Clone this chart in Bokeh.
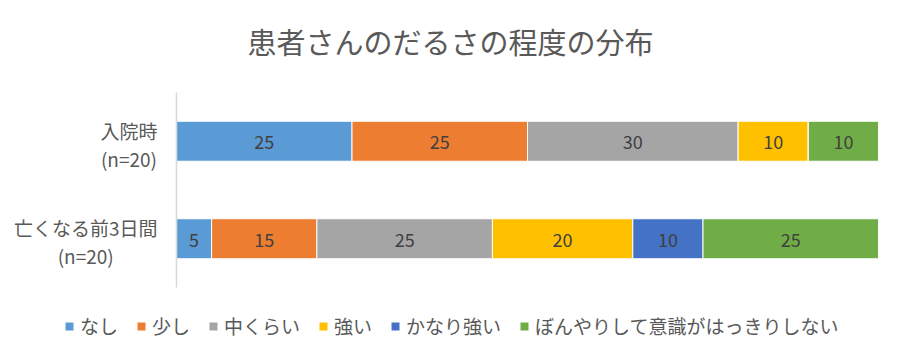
from bokeh.plotting import figure
from bokeh.models import ColumnDataSource, Legend, LegendItem, Label, Range1d
from bokeh.core.properties import value
from bokeh.embed import file_html
from bokeh.resources import INLINE

title_text = "患者さんのだるさの程度の分布"
categories = ["入院時\n(n=20)", "亡くなる前3日間\n(n=20)"]
levels = ["なし", "少し", "中くらい", "強い", "かなり強い", "ぼんやりして意識がはっきりしない"]
nashi = [25, 5]
sukoshi = [25, 15]
nakagurai = [30, 25]
tsuyoi = [10, 20]
kanari = [0, 10]
bonyari = [10, 25]
colors = ["#5B9BD5", "#ED7D31", "#A5A5A5", "#FFC000", "#4472C4", "#70AD47"]

FONT = "Noto Sans CJK JP"
W, H = 884, 344
# pixel layout of the plotting band inside the canvas
PX_L, PX_R = 176, 878          # x=0 .. x=100
PX_TOP, PX_BOT = 92, 287       # band of the categories
n = len(categories)
unit = (PX_BOT - PX_TOP) / n
xs = 100 / (PX_R - PX_L)
x_range = Range1d(-PX_L * xs, 100 + (W - PX_R) * xs)
y_top = (n - 0.5) + PX_TOP / unit
y_bot = -0.5 - (H - PX_BOT) / unit
y_range = Range1d(y_bot, y_top)

series = [nashi, sukoshi, nakagurai, tsuyoi, kanari, bonyari]
keys = ["s%d" % i for i in range(len(levels))]
ypos = [n - 1 - i for i in range(n)]
data = {"y": ypos, "cat": categories}
for k, s in zip(keys, series):
    data[k] = s
src = ColumnDataSource(data)

p = figure(width=W, height=H, output_backend="svg", toolbar_location=None,
           x_range=x_range, y_range=y_range,
           min_border_left=0, min_border_right=0, min_border_top=0, min_border_bottom=0)
p.outline_line_color = None
p.grid.grid_line_color = None
p.xaxis.visible = False
p.yaxis.visible = False

rs = p.hbar_stack(keys, y="y", height=0.41, color=colors, line_color="white",
                  line_width=1, source=src)

# legend swatches without outline
dummies = [p.quad(left=[0], right=[0], top=[0], bottom=[0], fill_color=c, line_color=None,
                  visible=False) for c in colors]

# category axis line and labels
p.segment(x0=[0], y0=[-0.5], x1=[0], y1=[n - 0.5], line_color="#D9D9D9", line_width=1.5)
p.text(x=[0] * n, y=ypos, text=categories, anchor="center_right", text_align="center",
       text_baseline="middle", x_offset=-19, y_offset=3, text_font=value(FONT),
       text_font_size="19px", text_color="#595959", text_line_height=1.05)

# value labels
lx, ly, lt = [], [], []
for i in range(n):
    acc = 0
    for s in series:
        v = s[i]
        if v > 0:
            lx.append(acc + v / 2)
            ly.append(ypos[i])
            lt.append(str(v))
        acc += v
p.text(x=lx, y=ly, text=lt, text_align="center", text_baseline="middle", y_offset=1,
       text_font=value(FONT), text_font_size="18px", text_color="#404040")

items = [LegendItem(label=l, renderers=[r]) for l, r in zip(levels, dummies)]
legend = Legend(items=items, orientation="horizontal", location=(64, 5),
                label_text_font=FONT, label_text_font_size="19px",
                label_text_color="#595959", glyph_width=10, glyph_height=10,
                spacing=18, label_standoff=6, border_line_color=None,
                background_fill_alpha=0, padding=0, margin=0)
p.add_layout(legend)

p.add_layout(Label(x=450, y=H - 40, x_units="screen", y_units="screen",
                   text=title_text, text_font=FONT, text_font_size="29px",
                   text_color="#595959", text_align="center", text_baseline="middle"))

open("out.html", "w").write(file_html(p, INLINE))
